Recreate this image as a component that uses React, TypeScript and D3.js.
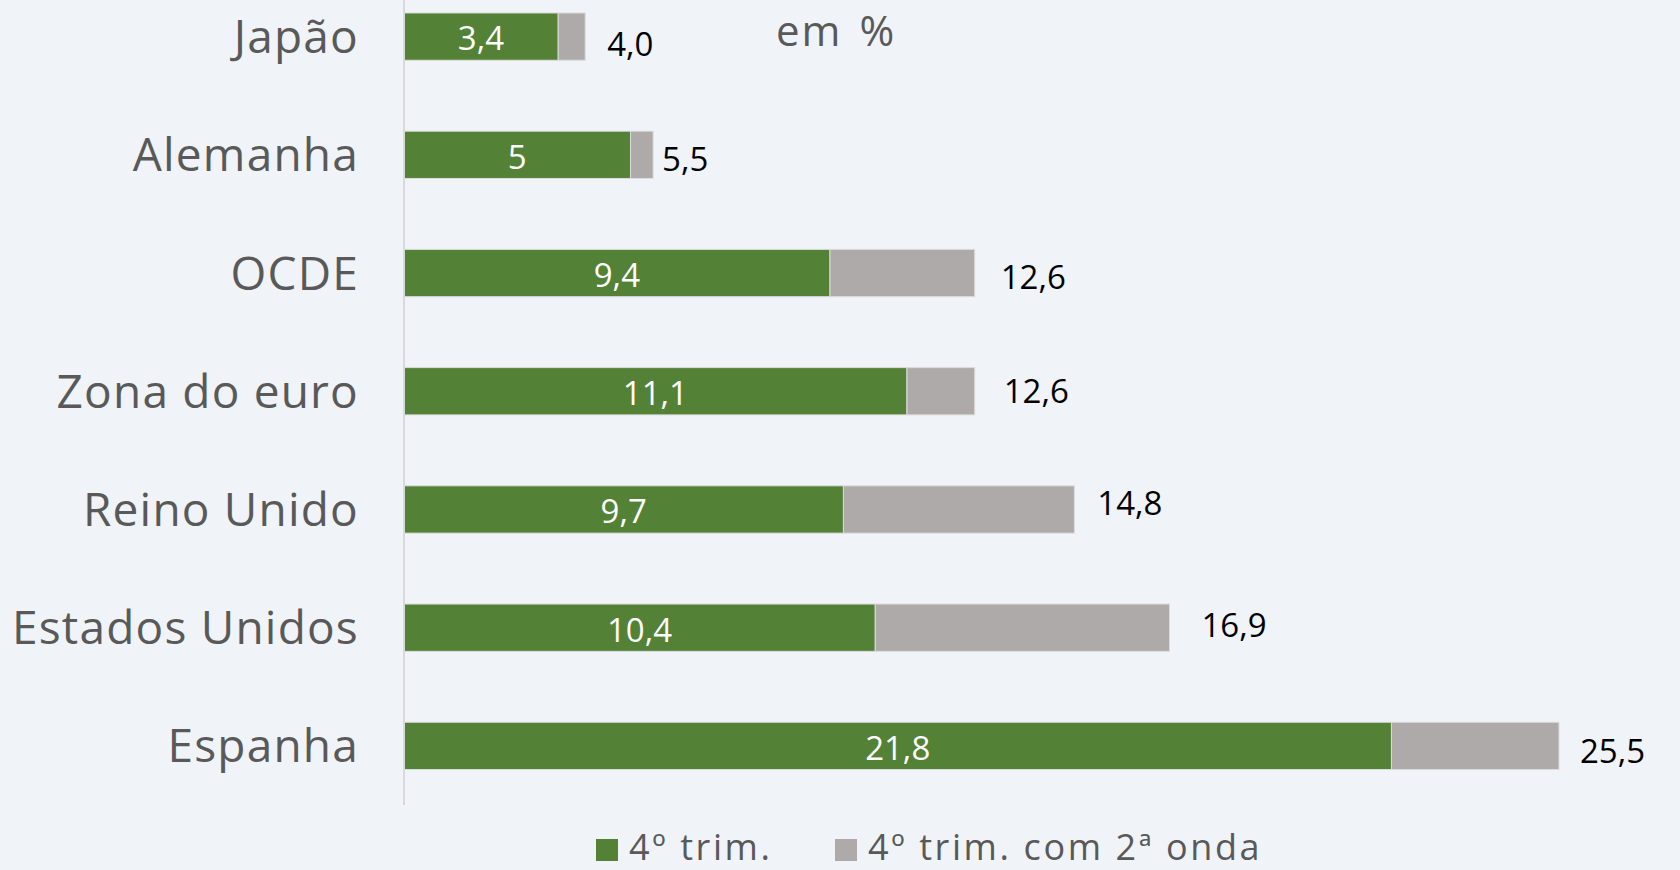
import React, { useEffect, useRef } from 'react';
import * as d3 from 'd3';

const categories = ['Japão', 'Alemanha', 'OCDE', 'Zona do euro', 'Reino Unido', 'Estados Unidos', 'Espanha'];
const q4Values = [3.4, 5, 9.4, 11.1, 9.7, 10.4, 21.8];
const q4SecondWave = [4.0, 5.5, 12.6, 12.6, 14.8, 16.9, 25.5];
const seriesNames = ['4º trim.', '4º trim. com 2ª onda'];
// hand-placed total labels in the original (gap after bar end, vertical shift)
const totalLabelGap = [22, 9, 26, 29, 23, 32, 21];
const totalLabelShift = [8, 4, 4, 0, -6, -3, 5];

const GREEN = '#538135';
const GRAY = '#aeaaaa';
const TEXT = '#595959';
const FONT = '"Century Gothic", "Open Sans", Lato, sans-serif';

const App: React.FC = () => {
  const svgRef = useRef<SVGSVGElement>(null);

  useEffect(() => {
    if (!svgRef.current) return;
    const width = 1680;
    const height = 870;

    const svg = d3.select(svgRef.current)
      .attr('width', width)
      .attr('height', height)
      .html('');

    svg.append('rect')
      .attr('width', width)
      .attr('height', height)
      .attr('fill', '#f0f3f7');

    const x = d3.scaleLinear().domain([0, 25.5]).range([404, 1559]);
    const y = d3.scaleBand<string>()
      .domain(categories)
      .range([-22.5, 805])
      .paddingInner(0.6)
      .paddingOuter(0.3);

    const rows = categories.map((c, i) => ({
      c,
      i,
      a: q4Values[i],
      t: q4SecondWave[i],
    }));

    // gray segment (difference up to total)
    svg.append('g').selectAll('rect')
      .data(rows)
      .join('rect')
      .attr('x', d => x(d.a))
      .attr('y', d => y(d.c)!)
      .attr('width', d => x(d.t) - x(d.a))
      .attr('height', y.bandwidth())
      .attr('fill', GRAY)
      .attr('stroke', '#dcdcdc')
      .attr('stroke-width', 1);

    // green segment
    svg.append('g').selectAll('rect')
      .data(rows)
      .join('rect')
      .attr('x', x(0))
      .attr('y', d => y(d.c)!)
      .attr('width', d => x(d.a) - x(0))
      .attr('height', y.bandwidth())
      .attr('fill', GREEN)
      .attr('stroke', '#dcdcdc')
      .attr('stroke-width', 1);

    // axis line
    svg.append('line')
      .attr('x1', x(0)).attr('x2', x(0))
      .attr('y1', y.range()[0]).attr('y2', y.range()[1])
      .attr('stroke', '#d9d9d9')
      .attr('stroke-width', 2);

    // category labels
    svg.append('g').selectAll('text')
      .data(rows)
      .join('text')
      .attr('x', 359)
      .attr('y', d => y(d.c)! + y.bandwidth() / 2)
      .attr('dy', '0.36em')
      .attr('text-anchor', 'end')
      .attr('font-family', FONT)
      .attr('font-size', 46)
      .attr('letter-spacing', 1.2)
      .attr('fill', TEXT)
      .text(d => d.c);

    // inner labels
    svg.append('g').selectAll('text')
      .data(rows)
      .join('text')
      .attr('x', d => (x(0) + x(d.a)) / 2)
      .attr('y', d => y(d.c)! + y.bandwidth() / 2 + 2)
      .attr('dy', '0.36em')
      .attr('text-anchor', 'middle')
      .attr('font-family', FONT)
      .attr('font-size', 33)
      .attr('fill', '#ffffff')
      .text(d => String(d.a).replace('.', ','));

    // total labels
    svg.append('g').selectAll('text')
      .data(rows)
      .join('text')
      .attr('x', d => x(d.t) + totalLabelGap[d.i])
      .attr('y', d => y(d.c)! + y.bandwidth() / 2 + totalLabelShift[d.i])
      .attr('dy', '0.36em')
      .attr('text-anchor', 'start')
      .attr('font-family', FONT)
      .attr('font-size', 33)
      .attr('fill', '#000000')
      .text(d => d.t.toFixed(1).replace('.', ','));

    // unit note
    svg.append('text')
      .attr('x', 776)
      .attr('y', 46)
      .attr('text-anchor', 'start')
      .attr('font-family', FONT)
      .attr('font-size', 42)
      .attr('letter-spacing', 2)
      .attr('word-spacing', 4)
      .attr('fill', TEXT)
      .text('em %');

    // legend
    const legendX = [596, 835];
    const legendColors = [GREEN, GRAY];
    const lg = svg.append('g');
    seriesNames.forEach((name, i) => {
      lg.append('rect')
        .attr('x', legendX[i])
        .attr('y', 839)
        .attr('width', 22)
        .attr('height', 22)
        .attr('fill', legendColors[i]);
      lg.append('text')
        .attr('x', legendX[i] + 33)
        .attr('y', 860)
        .attr('font-family', FONT)
        .attr('font-size', 36)
        .attr('letter-spacing', 2.6)
        .attr('fill', TEXT)
        .text(name);
    });
  }, []);

  return (
    <div style={{ position: 'absolute', left: 0, top: 0 }}>
      <svg ref={svgRef} style={{ display: 'block' }} />
    </div>
  );
};

export default App;
